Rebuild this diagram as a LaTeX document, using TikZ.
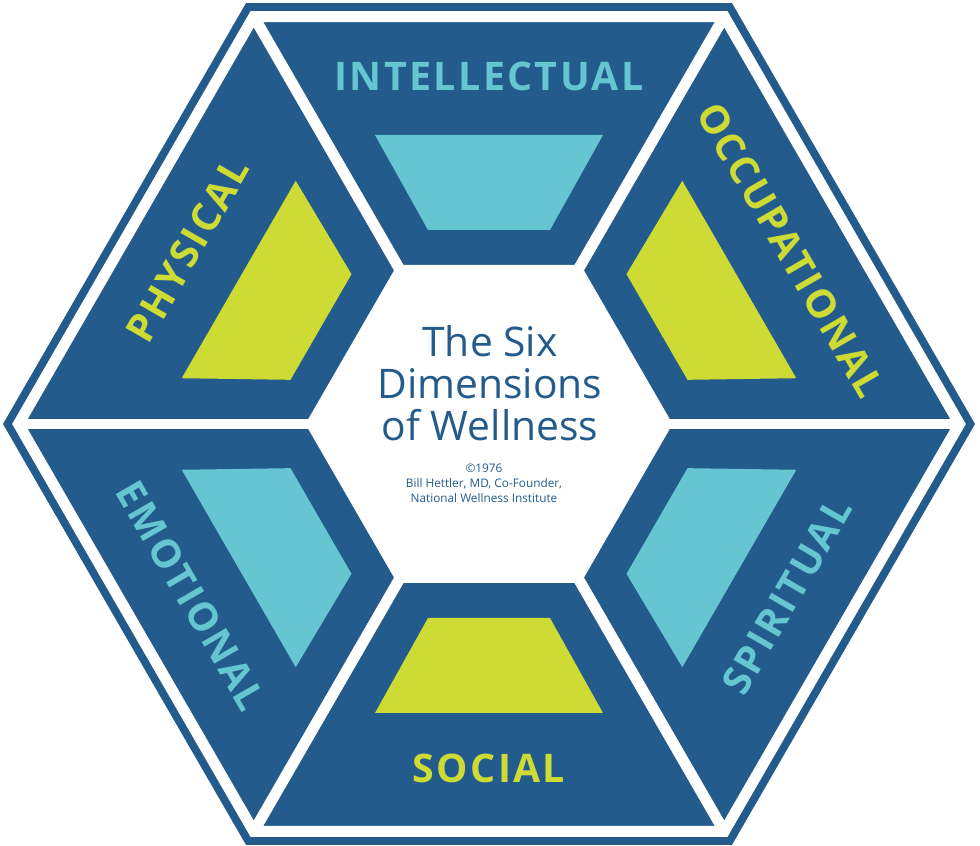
\documentclass[tikz,border=0pt]{standalone}
\usepackage{fontspec}
\setsansfont{Open Sans}
\newfontfamily\dimfont{Open Sans}[LetterSpace=6.0]
\usepackage{tikz}
\usetikzlibrary{positioning}
\definecolor{wellblue}{RGB}{35, 91, 141}
\definecolor{wellcyan}{RGB}{101, 197, 209}
\definecolor{welllime}{RGB}{205, 219, 52}
\newcommand{\hexpath}[1]{(0:#1) -- (60:#1) -- (120:#1) -- (180:#1) -- (240:#1) -- (300:#1) -- cycle}

\begin{document}
\begin{tikzpicture}[x=0.025cm, y=0.025cm,
    dimlabel/.style={font=\dimfont\bfseries\fontsize{28}{28}\selectfont},
    gap/.style={white, line width=7.8pt, line join=miter}]
    \useasboundingbox (-489,-422) rectangle (491,424);
    % frame, outline and spokes
    \fill[wellblue] \hexpath{486};
    \draw[gap] \hexpath{470.5};
    \foreach \a in {0,60,...,300}
    {
        \draw[gap] (0,0) -- (\a:470.5);
    }
    \fill[white] \hexpath{183.6};
    % coloured panels
    \foreach \rot/\col in {0/wellcyan, 60/welllime, 120/wellcyan, 180/welllime, 240/wellcyan, 300/welllime}
    {
        \fill[\col, rotate=\rot] (-114,289) -- (114,289) -- (61,194) -- (-61,194) -- cycle;
    }
    % dimension names
    \node[dimlabel, wellcyan] (intellectual) at (90:348) {INTELLECTUAL};
    \node[dimlabel, welllime, rotate=60] (physical) at (150:348) {PHYSICAL};
    \node[dimlabel, welllime, rotate=-60] (occupational) at (30:348) {OCCUPATIONAL};
    \node[dimlabel, wellcyan, rotate=-60] (emotional) at (210:344) {EMOTIONAL};
    \node[dimlabel, wellcyan, rotate=60] (spiritual) at (330:344) {SPIRITUAL};
    \node[dimlabel, welllime] (social) at (270:344) {SOCIAL};
    % centre
    \node[wellblue, align=center, font=\sffamily\fontsize{29}{30}\selectfont] (title) at (1,41)
        {The Six\\Dimensions\\of Wellness};
    \node[wellblue, align=center, font=\sffamily\fontsize{8.4}{10.8}\selectfont] (credit) at (-5,-59)
        {\textcopyright1976\\Bill Hettler, MD, Co-Founder,\\National Wellness Institute};
\end{tikzpicture}
\end{document}
